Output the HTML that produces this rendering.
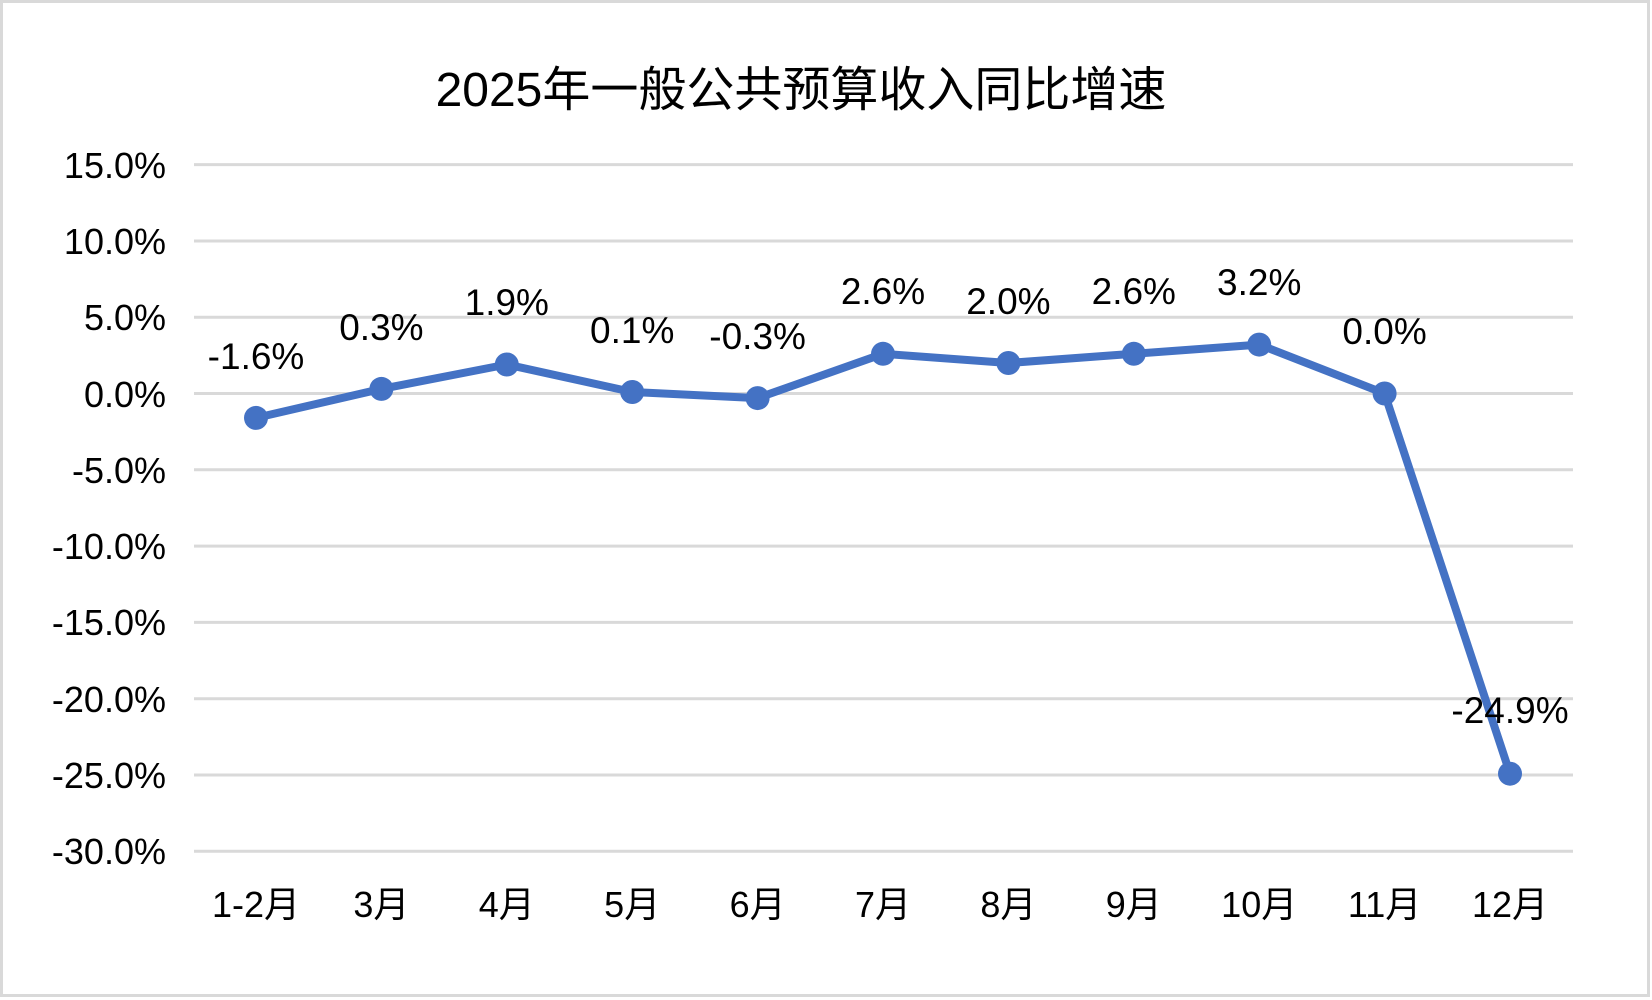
<!DOCTYPE html>
<html><head><meta charset="utf-8"><style>
html,body{margin:0;padding:0;background:#fff;}
svg{display:block;}
text{font-family:"Liberation Sans","Noto Sans CJK SC",sans-serif;fill:#000;}
</style></head><body>
<svg width="1652" height="1000" xmlns="http://www.w3.org/2000/svg">
<rect x="1.5" y="1.5" width="1647" height="994" fill="#fff" stroke="#d9d9d9" stroke-width="3"/>
<text x="801" y="106" font-size="48" text-anchor="middle">2025年一般公共预算收入同比增速</text>
<g stroke="#d9d9d9" stroke-width="3">
<line x1="194" x2="1573" y1="164.6" y2="164.6"/>
<line x1="194" x2="1573" y1="241" y2="241"/>
<line x1="194" x2="1573" y1="317.2" y2="317.2"/>
<line x1="194" x2="1573" y1="393.5" y2="393.5"/>
<line x1="194" x2="1573" y1="469.8" y2="469.8"/>
<line x1="194" x2="1573" y1="546.1" y2="546.1"/>
<line x1="194" x2="1573" y1="622.4" y2="622.4"/>
<line x1="194" x2="1573" y1="698.7" y2="698.7"/>
<line x1="194" x2="1573" y1="775" y2="775"/>
<line x1="194" x2="1573" y1="851.3" y2="851.3"/>
</g>
<g font-size="36" text-anchor="end">
<text x="166" y="178">15.0%</text>
<text x="166" y="254">10.0%</text>
<text x="166" y="330">5.0%</text>
<text x="166" y="407">0.0%</text>
<text x="166" y="483">-5.0%</text>
<text x="166" y="559">-10.0%</text>
<text x="166" y="635">-15.0%</text>
<text x="166" y="712">-20.0%</text>
<text x="166" y="788">-25.0%</text>
<text x="166" y="864">-30.0%</text>
</g>
<g font-size="36" text-anchor="middle">
<text x="256" y="917">1-2月</text>
<text x="381.4" y="917">3月</text>
<text x="506.8" y="917">4月</text>
<text x="632.2" y="917">5月</text>
<text x="757.6" y="917">6月</text>
<text x="883" y="917">7月</text>
<text x="1008.4" y="917">8月</text>
<text x="1133.8" y="917">9月</text>
<text x="1259.2" y="917">10月</text>
<text x="1384.6" y="917">11月</text>
<text x="1510" y="917">12月</text>
</g>
<polyline fill="none" stroke="#4472c4" stroke-width="8" stroke-linejoin="round"
points="256,417.9 381.4,388.9 506.8,364.5 632.2,392 757.6,398.1 883,353.8 1008.4,363 1133.8,353.8 1259.2,344.6 1384.6,393.5 1510,773.7"/>
<g fill="#4472c4">
<circle cx="256" cy="417.9" r="12"/>
<circle cx="381.4" cy="388.9" r="12"/>
<circle cx="506.8" cy="364.5" r="12"/>
<circle cx="632.2" cy="392" r="12"/>
<circle cx="757.6" cy="398.1" r="12"/>
<circle cx="883" cy="353.8" r="12"/>
<circle cx="1008.4" cy="363" r="12"/>
<circle cx="1133.8" cy="353.8" r="12"/>
<circle cx="1259.2" cy="344.6" r="12"/>
<circle cx="1384.6" cy="393.5" r="12"/>
<circle cx="1510" cy="773.7" r="12"/>
</g>
<g font-size="37" text-anchor="middle">
<text x="256" y="369">-1.6%</text>
<text x="381.4" y="340">0.3%</text>
<text x="506.8" y="315">1.9%</text>
<text x="632.2" y="343">0.1%</text>
<text x="757.6" y="349">-0.3%</text>
<text x="883" y="304">2.6%</text>
<text x="1008.4" y="314">2.0%</text>
<text x="1133.8" y="304">2.6%</text>
<text x="1259.2" y="295">3.2%</text>
<text x="1384.6" y="344">0.0%</text>
<text x="1510" y="723">-24.9%</text>
</g>
</svg>
</body></html>
